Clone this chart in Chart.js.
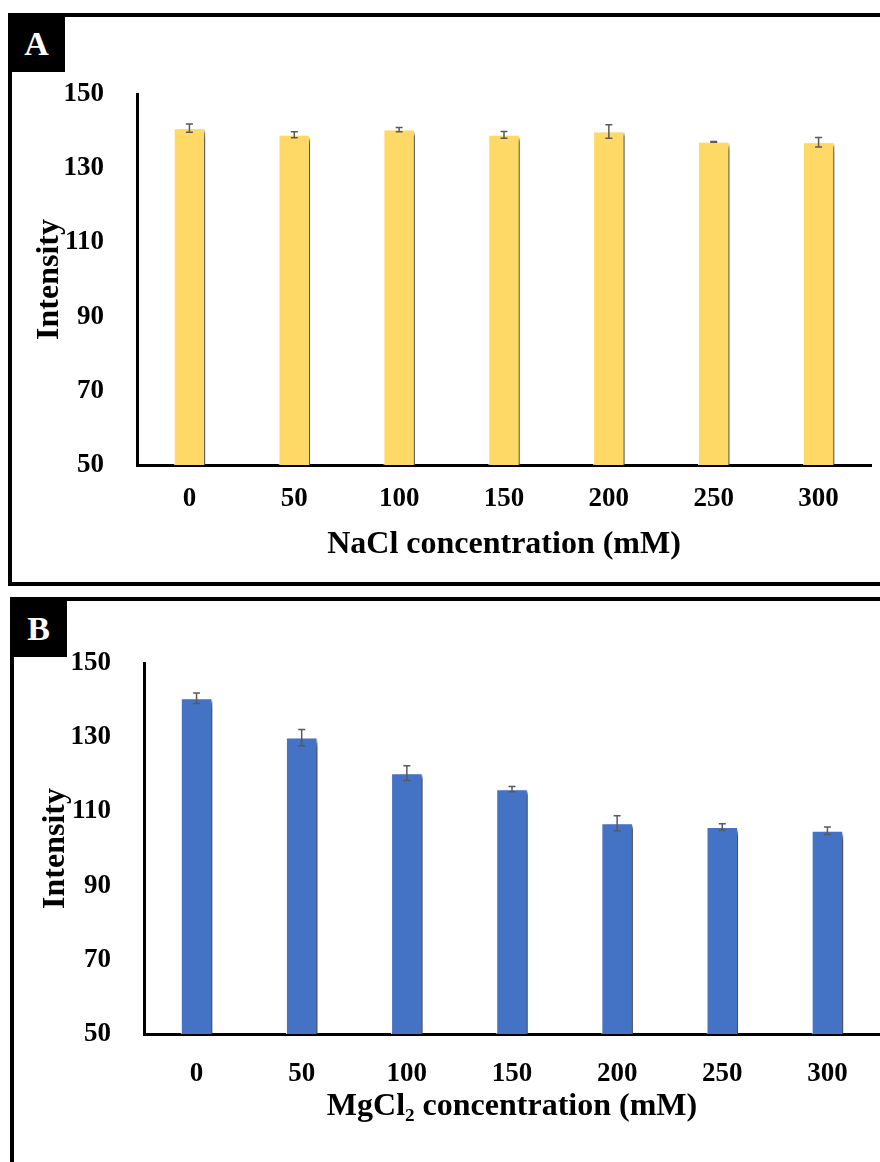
<!DOCTYPE html>
<html>
<head>
<meta charset="utf-8">
<script src="https://cdn.jsdelivr.net/npm/chart.js@4.4.0/dist/chart.umd.min.js"></script>
<style>
  html, body { margin: 0; padding: 0; background: #fff; overflow: hidden; }
  #page { position: relative; width: 880px; height: 1162px; overflow: hidden; }
  .frame { position: absolute; border: 4px solid #000; box-sizing: border-box; }
  .tag { position: absolute; background: #000; color: #fff; font: bold 34px 'Liberation Serif', serif; text-align: center; }
  canvas { position: absolute; left: 0; }
</style>
</head>
<body>
<div id="page">
  <div class="frame" style="left:8px;top:13px;width:900px;height:573px;"></div>
  <div class="tag" style="left:8px;top:13px;width:57px;height:59px;line-height:62px;">A</div>
  <div class="frame" style="left:10px;top:597px;width:900px;height:700px;"></div>
  <div class="tag" style="left:10px;top:597px;width:57px;height:60px;line-height:64px;">B</div>
  <canvas id="chartA" width="880" height="590" style="top:0"></canvas>
  <canvas id="chartB" width="880" height="572" style="top:590px"></canvas>
</div>
<script>
(function (window) {
  'use strict';

  // concentrations (mM)
  var concentrations = ['0', '50', '100', '150', '200', '250', '300'];

  // panel A - NaCl
  var naclMeans = [140.8, 139.0, 140.4, 139.0, 139.9, 137.1, 137.0];
  var naclErr   = [1.1, 0.8, 0.6, 0.9, 1.8, 0.1, 1.3];

  // panel B - MgCl2
  var mgMeans = [140.5, 129.9, 120.3, 116.0, 106.8, 105.8, 104.8];
  var mgErr   = [1.4, 2.2, 2.0, 0.7, 2.0, 0.9, 1.0];

  var yTicks = { min: 50, max: 150, step: 20 };

  var SERIF = "'Liberation Serif', 'Times New Roman', serif";
  var tickFont = { family: SERIF, size: 27, weight: 'bold' };
  var titleFont = { family: SERIF, size: 32, weight: 'bold' };

  // grey drop shadow on the right side of each bar
  var shadowPlugin = {
    id: 'barShadow',
    beforeDatasetDraw: function (chart) {
      var ctx = chart.ctx;
      ctx.save();
      ctx.shadowColor = 'rgba(0,0,0,0.7)';
      ctx.shadowBlur = 3;
      ctx.shadowOffsetX = 4;
      ctx.shadowOffsetY = 3;
    },
    afterDatasetDraw: function (chart) { chart.ctx.restore(); }
  };

  var errorBarPlugin = {
    id: 'errorBars',
    afterDatasetsDraw: function (chart) {
      var ctx = chart.ctx, ys = chart.scales.y;
      chart.data.datasets.forEach(function (ds, di) {
        var meta = chart.getDatasetMeta(di);
        meta.data.forEach(function (bar, i) {
          var v = ds.data[i], e = ds.errors[i];
          var top = ys.getPixelForValue(v + e), bot = ys.getPixelForValue(v - e);
          var cx = bar.x, cap = 3.5;
          ctx.save();
          ctx.strokeStyle = '#595959';
          ctx.lineWidth = 1.5;
          ctx.beginPath();
          ctx.moveTo(cx, top); ctx.lineTo(cx, bot);
          ctx.moveTo(cx - cap, top); ctx.lineTo(cx + cap, top);
          ctx.moveTo(cx - cap, bot); ctx.lineTo(cx + cap, bot);
          ctx.stroke();
          ctx.restore();
        });
      });
    }
  };

  function buildChart(id, means, errs, color, xTitle, box) {
    var ctx = document.getElementById(id).getContext('2d');
    return new Chart(ctx, {
      type: 'bar',
      data: {
        labels: concentrations,
        datasets: [{
          data: means,
          errors: errs,
          backgroundColor: color,
          borderColor: 'rgba(255,255,255,0.9)',
          borderWidth: 1,
          barPercentage: 0.3,
          categoryPercentage: 1
        }]
      },
      options: {
        responsive: false,
        animation: false,
        devicePixelRatio: 1,
        layout: { padding: { top: box.top, right: box.right, left: 0, bottom: 0 } },
        plugins: { legend: { display: false }, tooltip: { enabled: false } },
        scales: {
          x: {
            grid: { display: false },
            border: { display: true, color: '#000', width: 3 },
            ticks: { font: tickFont, color: '#000', padding: box.xTickPad },
            title: { display: true, text: xTitle, font: titleFont, color: '#000', padding: { top: 0, bottom: box.xTitlePad } },
            afterFit: function (s) { s.height = box.xHeight; }
          },
          y: {
            min: yTicks.min,
            max: yTicks.max,
            grid: { display: false },
            border: { display: true, color: '#000', width: 3 },
            ticks: { stepSize: yTicks.step, font: tickFont, color: '#000', padding: 25 },
            title: { display: true, text: 'Intensity', font: titleFont, color: '#000', padding: { top: box.yTitlePad, bottom: 0 } },
            afterFit: function (s) { s.width = box.yWidth; }
          }
        }
      },
      plugins: [shadowPlugin, errorBarPlugin]
    });
  }

  buildChart('chartA', naclMeans, naclErr, '#FFD966', 'NaCl concentration (mM)',
    { top: 94, right: 9, xHeight: 125, xTickPad: 10, xTitlePad: 26, yWidth: 137, yTitlePad: 31 });
  buildChart('chartB', mgMeans, mgErr, '#4472C4', 'MgCl\u2082 concentration (mM)',
    { top: 73, right: 0, xHeight: 128, xTickPad: 16, xTitlePad: 36, yWidth: 144, yTitlePad: 37 });

})(window);
</script>
</body>
</html>
